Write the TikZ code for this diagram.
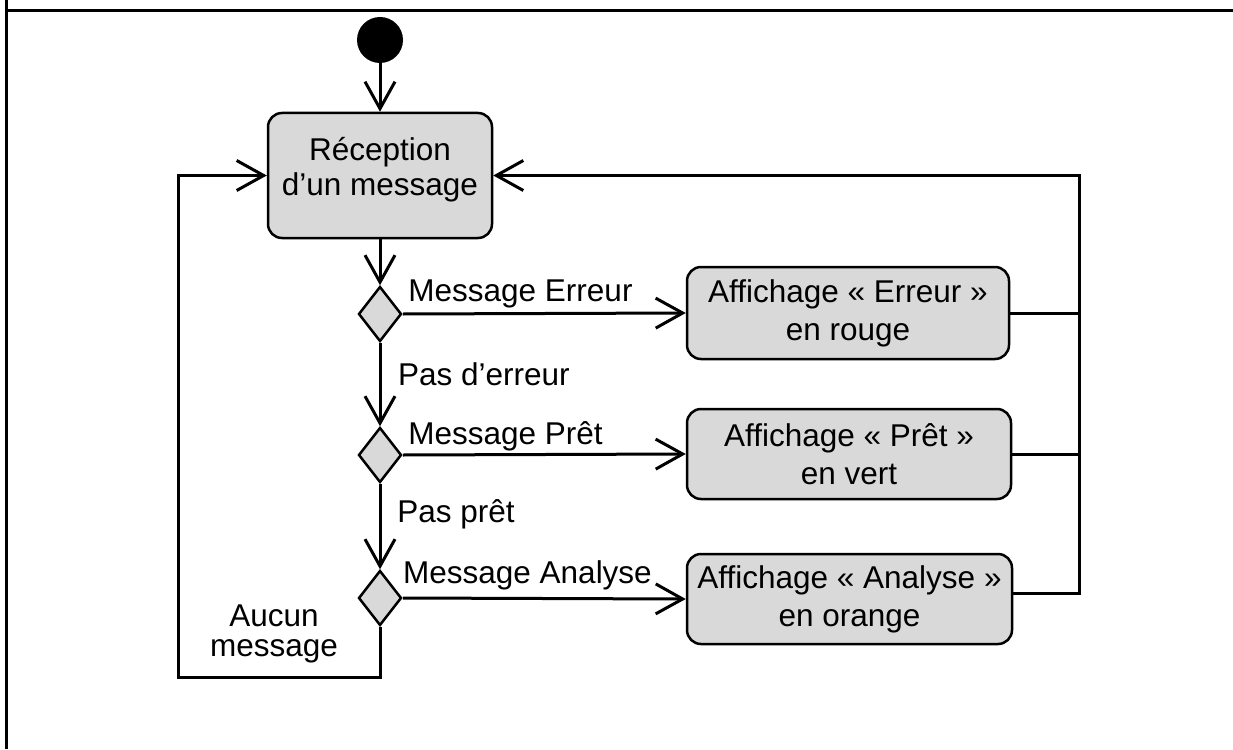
\documentclass[tikz,border=0pt]{standalone}
\usepackage{fontspec}
\setmainfont{Liberation Sans}
\usetikzlibrary{arrows.meta,shapes.geometric}
\definecolor{boxgray}{RGB}{217,217,217}
\tikzset{
  box/.style={draw, fill=boxgray, line width=2.5pt, rounded corners=14pt, align=center,
    font=\fontsize{31.5}{38}\selectfont, inner sep=0pt},
  dec/.style={draw, fill=boxgray, line width=2.5pt, shape=diamond, minimum width=43pt,
    minimum height=55pt, inner sep=0pt},
  arr/.style={line width=3pt, -{Straight Barb[length=27pt,width=30pt]}},
  ln/.style={line width=3pt},
  lbl/.style={font=\fontsize{31.5}{30}\selectfont, inner sep=0pt, align=center},
}
\begin{document}
\begin{tikzpicture}[x=1pt,y=-1pt]
\useasboundingbox (0,0) rectangle (1233,749);
% frame
\draw[line width=3pt] (6,749) -- (6,0);
\draw[line width=3pt] (6,11) -- (1233,11);
% nodes
\node[circle, fill=black, minimum size=46pt, inner sep=0pt] (start) at (380,40) {};
\node[box, minimum width=224pt, minimum height=125pt,
  label={[font=\fontsize{31.5}{35}\selectfont, align=center, yshift=5.5pt]center:Réception\\d’un message}] (rec) at (380,175.5) {};
\node[dec] (d1) at (380,314) {};
\node[dec] (d2) at (380,455) {};
\node[dec] (d3) at (380,598) {};
\node[box, minimum width=322pt, minimum height=92pt] (e1) at (848,313) {Affichage « Erreur »\\en rouge};
\node[box, minimum width=324pt, minimum height=90pt] (e2) at (849,454) {Affichage « Prêt »\\en vert};
\node[box, minimum width=325pt, minimum height=90pt] (e3) at (849.5,599) {Affichage « Analyse »\\en orange};
\coordinate (bl) at (178,677);
\coordinate (rr) at (1079,593);
% labels
\node[lbl] (l1) at (520.5,294) {Message Erreur};
\node[lbl] (l2) at (484,374) {Pas d’erreur};
\node[lbl] (l3) at (505.5,436) {Message Prêt};
\node[lbl] (l4) at (456,514) {Pas prêt};
\node[lbl] (l5) at (527.5,575) {Message Analyse};
\node[lbl] (l6) at (274,634) {Aucun\\message};
% connectors
\draw[arr] (start.south) -- (rec.north);
\draw[arr] (rec.south) -- (d1.north);
\draw[arr] (d1.east) -- (e1.west);
\draw[arr] (d1.south) -- (d2.north);
\draw[arr] (d2.east) -- (e2.west);
\draw[arr] (d2.south) -- (d3.north);
\draw[arr] (d3.east) -- (e3.west);
\draw[arr] (d3.south) |- (bl) |- (rec.west);
\draw[arr] ([yshift=6pt]e3.east) -- (rr) |- (rec.east);
\draw[ln] (e1.east) -- (e1.east -| rr);
\draw[ln] (e2.east) -- (e2.east -| rr);
\end{tikzpicture}
\end{document}
